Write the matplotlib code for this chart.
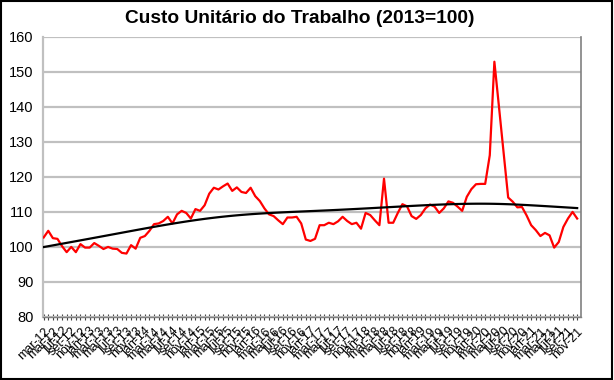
import matplotlib
matplotlib.use('Agg')
import matplotlib.pyplot as plt
import numpy as np
from matplotlib.patches import Rectangle

plt.rcParams['font.family'] = ['Liberation Sans', 'DejaVu Sans']

# monthly series, mar-12 .. nov-21
months = ['jan', 'fev', 'mar', 'abr', 'mai', 'jun', 'jul', 'ago', 'set', 'out', 'nov', 'dez']
start_month = 3
start_year = 2012

clu = [
    102.7, 104.6, 102.5, 102.3, 100.2, 98.5, 100.0, 98.5, 100.8, 99.8,
    99.8, 101.1, 100.3, 99.4, 100.0, 99.5, 99.4, 98.3, 98.1, 100.5,
    99.5, 102.6, 103.1, 104.6, 106.5, 106.7, 107.4, 108.6, 106.7, 109.3,
    110.3, 109.7, 108.1, 110.8, 110.3, 111.9, 115.2, 116.9, 116.4, 117.3,
    118.1, 116.0, 117.0, 115.7, 115.4, 116.9, 114.5, 113.1, 111.0, 109.3,
    108.8, 107.6, 106.5, 108.4, 108.4, 108.6, 106.7, 102.1, 101.7, 102.3,
    106.2, 106.2, 106.9, 106.5, 107.3, 108.6, 107.4, 106.5, 106.9, 105.2,
    109.7, 109.1, 107.6, 106.2, 119.5, 106.9, 106.9, 109.7, 112.2, 111.6,
    108.8, 108.0, 109.1, 111.0, 112.1, 111.5, 109.7, 111.0, 113.0, 112.6,
    111.5, 110.3, 114.3, 116.5, 117.9, 118.0, 118.0, 126.2, 152.9, 140.0,
    127.0, 114.1, 112.9, 111.3, 111.4, 109.0, 106.2, 104.8, 103.1, 104.0,
    103.3, 99.8, 101.4, 105.7, 108.1, 110.0, 108.1,
]

hp_lambda = 1e5

n = len(clu)
x = np.arange(n)
labels = []
for i in range(n):
    m = (start_month - 1 + i) % 12
    yr = start_year + (start_month - 1 + i) // 12
    labels.append(f"{months[m]}-{yr % 100:02d}")

# Hodrick-Prescott trend of the series
D = np.zeros((n - 2, n))
for k in range(n - 2):
    D[k, k:k + 3] = [1, -2, 1]
trend = np.linalg.solve(np.eye(n) + hp_lambda * D.T @ D, np.array(clu))

fig = plt.figure(figsize=(6.14, 3.80), dpi=100)
ax = fig.add_axes([0.070, 0.166, 0.876, 0.737])

ax.plot(x, clu, color='#ff0000', lw=1.6, zorder=3)
ax.plot(x, trend, color='black', lw=1.6, zorder=4)

ax.set_ylim(80, 160)
ax.set_yticks(range(80, 161, 10))
ax.set_xlim(-0.15, n - 0.2)
ax.set_xticks(x[::2])
ax.set_xticklabels(labels[::2], rotation=45, ha='right', rotation_mode='anchor', fontsize=9)
ax.set_xticks(x, minor=True)
ax.tick_params(axis='x', which='both', direction='inout', length=5, width=0.8, color='#404040')
ax.tick_params(axis='y', length=0, labelsize=10.5, pad=7)

ax.grid(axis='y', color='#c0c0c0', lw=1.6)
ax.set_axisbelow(True)
ax.spines['top'].set_visible(False)
ax.spines['left'].set_color('#c0c0c0')
ax.spines['left'].set_linewidth(1.6)
ax.spines['right'].set_color('#808080')
ax.spines['right'].set_linewidth(1.2)
ax.spines['bottom'].set_color('#808080')
ax.spines['bottom'].set_linewidth(1.0)

fig.text(0.489, 0.952, 'Custo Unitário do Trabalho (2013=100)', ha='center', va='center',
         fontsize=13.8, fontweight='bold')

fig.patches.append(Rectangle((0.002, 0.003), 0.995, 0.994, transform=fig.transFigure,
                             fill=False, edgecolor='black', lw=1.5))

fig.savefig('out.png', dpi=100)
